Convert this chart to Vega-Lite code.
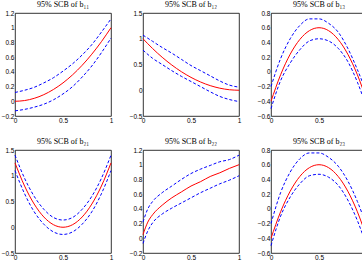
{
  "$schema": "https://vega.github.io/schema/vega-lite/v6.json",
  "padding": {"left": 0, "top": 0, "right": 0, "bottom": 0},
  "columns": 3,
  "spacing": {"row": 13, "column": 14},
  "datasets": {
    "b11": [
      {"x": 0, "m": 0, "lo": -0.13, "hi": 0.12},
      {"x": 0.1, "m": 0.01, "lo": -0.11, "hi": 0.15},
      {"x": 0.2, "m": 0.04, "lo": -0.08, "hi": 0.19},
      {"x": 0.3, "m": 0.09, "lo": -0.04, "hi": 0.25},
      {"x": 0.4, "m": 0.16, "lo": 0.02, "hi": 0.32},
      {"x": 0.5, "m": 0.25, "lo": 0.10, "hi": 0.41},
      {"x": 0.6, "m": 0.36, "lo": 0.20, "hi": 0.51},
      {"x": 0.7, "m": 0.49, "lo": 0.33, "hi": 0.63},
      {"x": 0.8, "m": 0.64, "lo": 0.48, "hi": 0.77},
      {"x": 0.9, "m": 0.81, "lo": 0.66, "hi": 0.94},
      {"x": 1, "m": 1.0, "lo": 0.86, "hi": 1.12}
    ],
    "b12": [
      {"x": 0, "m": 1.0, "lo": 0.78, "hi": 1.07},
      {"x": 0.1, "m": 0.81, "lo": 0.62, "hi": 0.95},
      {"x": 0.2, "m": 0.64, "lo": 0.50, "hi": 0.83},
      {"x": 0.3, "m": 0.49, "lo": 0.38, "hi": 0.72},
      {"x": 0.4, "m": 0.36, "lo": 0.27, "hi": 0.60},
      {"x": 0.5, "m": 0.25, "lo": 0.17, "hi": 0.48},
      {"x": 0.6, "m": 0.16, "lo": 0.07, "hi": 0.38},
      {"x": 0.7, "m": 0.09, "lo": -0.03, "hi": 0.28},
      {"x": 0.8, "m": 0.04, "lo": -0.12, "hi": 0.18},
      {"x": 0.9, "m": 0.01, "lo": -0.18, "hi": 0.10},
      {"x": 1, "m": 0.0, "lo": -0.22, "hi": 0.06}
    ],
    "b13": [
      {"x": 0, "m": -0.4, "lo": -0.5, "hi": -0.2},
      {"x": 0.1, "m": -0.04, "lo": -0.12, "hi": 0.18},
      {"x": 0.2, "m": 0.24, "lo": 0.12, "hi": 0.45},
      {"x": 0.3, "m": 0.44, "lo": 0.30, "hi": 0.63},
      {"x": 0.4, "m": 0.56, "lo": 0.42, "hi": 0.72},
      {"x": 0.5, "m": 0.6, "lo": 0.45, "hi": 0.72},
      {"x": 0.6, "m": 0.56, "lo": 0.42, "hi": 0.66},
      {"x": 0.7, "m": 0.44, "lo": 0.32, "hi": 0.54},
      {"x": 0.8, "m": 0.24, "lo": 0.14, "hi": 0.32},
      {"x": 0.9, "m": -0.04, "lo": -0.14, "hi": 0.03},
      {"x": 1, "m": -0.4, "lo": -0.5, "hi": -0.3}
    ],
    "b21": [
      {"x": 0, "m": 1.25, "lo": 1.1, "hi": 1.4},
      {"x": 0.1, "m": 0.8, "lo": 0.65, "hi": 0.95},
      {"x": 0.2, "m": 0.45, "lo": 0.3, "hi": 0.6},
      {"x": 0.3, "m": 0.2, "lo": 0.06, "hi": 0.35},
      {"x": 0.4, "m": 0.05, "lo": -0.09, "hi": 0.19},
      {"x": 0.5, "m": 0.0, "lo": -0.14, "hi": 0.14},
      {"x": 0.6, "m": 0.05, "lo": -0.09, "hi": 0.19},
      {"x": 0.7, "m": 0.2, "lo": 0.06, "hi": 0.35},
      {"x": 0.8, "m": 0.45, "lo": 0.3, "hi": 0.6},
      {"x": 0.9, "m": 0.8, "lo": 0.65, "hi": 0.95},
      {"x": 1, "m": 1.25, "lo": 1.1, "hi": 1.4}
    ],
    "b22": [
      {"x": 0, "m": 0.05, "lo": -0.07, "hi": 0.22},
      {"x": 0.05, "m": 0.22, "lo": 0.10, "hi": 0.40},
      {"x": 0.1, "m": 0.32, "lo": 0.21, "hi": 0.50},
      {"x": 0.2, "m": 0.45, "lo": 0.33, "hi": 0.62},
      {"x": 0.3, "m": 0.55, "lo": 0.41, "hi": 0.71},
      {"x": 0.4, "m": 0.63, "lo": 0.48, "hi": 0.80},
      {"x": 0.5, "m": 0.71, "lo": 0.55, "hi": 0.88},
      {"x": 0.6, "m": 0.77, "lo": 0.62, "hi": 0.94},
      {"x": 0.7, "m": 0.84, "lo": 0.68, "hi": 0.99},
      {"x": 0.8, "m": 0.89, "lo": 0.74, "hi": 1.04},
      {"x": 0.9, "m": 0.95, "lo": 0.79, "hi": 1.07},
      {"x": 1, "m": 1.0, "lo": 0.85, "hi": 1.13}
    ],
    "b23": [
      {"x": 0, "m": -0.4, "lo": -0.5, "hi": -0.2},
      {"x": 0.1, "m": -0.04, "lo": -0.1, "hi": 0.22},
      {"x": 0.2, "m": 0.24, "lo": 0.16, "hi": 0.5},
      {"x": 0.3, "m": 0.44, "lo": 0.34, "hi": 0.68},
      {"x": 0.4, "m": 0.56, "lo": 0.45, "hi": 0.76},
      {"x": 0.5, "m": 0.6, "lo": 0.47, "hi": 0.76},
      {"x": 0.6, "m": 0.56, "lo": 0.43, "hi": 0.70},
      {"x": 0.7, "m": 0.44, "lo": 0.32, "hi": 0.58},
      {"x": 0.8, "m": 0.24, "lo": 0.12, "hi": 0.38},
      {"x": 0.9, "m": -0.04, "lo": -0.16, "hi": 0.1},
      {"x": 1, "m": -0.4, "lo": -0.52, "hi": -0.25}
    ]
  },
  "config": {
    "view": {"stroke": "black", "strokeWidth": 0.8},
    "axis": {"grid": false, "domain": false, "ticks": false, "labelFont": "Liberation Sans", "labelFontSize": 6.5, "labelColor": "black", "labelPadding": 1, "labelFlush": false, "labelOverlap": false, "title": null, "format": "~g"},
    "title": {"font": "Liberation Serif", "fontSize": 8, "fontWeight": "normal", "color": "black", "offset": 1},
    "line": {"interpolate": "monotone", "strokeWidth": 1}
  },
  "concat": [
    {"title": "95% SCB of b₁₁", "width": 96, "height": 103, "data": {"name": "b11"},
     "encoding": {"x": {"field": "x", "type": "quantitative", "scale": {"domain": [0, 1], "nice": false}, "axis": {"values": [0, 0.5, 1]}}},
     "layer": [
       {"mark": {"type": "line", "color": "#0000ff", "strokeDash": [3, 2]}, "encoding": {"y": {"field": "lo", "type": "quantitative", "scale": {"domain": [-0.2, 1.2], "nice": false}, "axis": {"values": [-0.2, 0, 0.2, 0.4, 0.6, 0.8, 1, 1.2]}}}},
       {"mark": {"type": "line", "color": "#0000ff", "strokeDash": [3, 2]}, "encoding": {"y": {"field": "hi", "type": "quantitative", "scale": {"domain": [-0.2, 1.2], "nice": false}, "axis": {"values": [-0.2, 0, 0.2, 0.4, 0.6, 0.8, 1, 1.2]}}}},
       {"mark": {"type": "line", "color": "#ff0000"}, "encoding": {"y": {"field": "m", "type": "quantitative", "scale": {"domain": [-0.2, 1.2], "nice": false}, "axis": {"values": [-0.2, 0, 0.2, 0.4, 0.6, 0.8, 1, 1.2]}}}}
     ]},
    {"title": "95% SCB of b₁₂", "width": 96, "height": 103, "data": {"name": "b12"},
     "encoding": {"x": {"field": "x", "type": "quantitative", "scale": {"domain": [0, 1], "nice": false}, "axis": {"values": [0, 0.5, 1]}}},
     "layer": [
       {"mark": {"type": "line", "color": "#0000ff", "strokeDash": [3, 2]}, "encoding": {"y": {"field": "lo", "type": "quantitative", "scale": {"domain": [-0.5, 1.5], "nice": false}, "axis": {"values": [-0.5, 0, 0.5, 1, 1.5]}}}},
       {"mark": {"type": "line", "color": "#0000ff", "strokeDash": [3, 2]}, "encoding": {"y": {"field": "hi", "type": "quantitative", "scale": {"domain": [-0.5, 1.5], "nice": false}, "axis": {"values": [-0.5, 0, 0.5, 1, 1.5]}}}},
       {"mark": {"type": "line", "color": "#ff0000"}, "encoding": {"y": {"field": "m", "type": "quantitative", "scale": {"domain": [-0.5, 1.5], "nice": false}, "axis": {"values": [-0.5, 0, 0.5, 1, 1.5]}}}}
     ]},
    {"title": "95% SCB of b₁₃", "width": 96, "height": 103, "data": {"name": "b13"},
     "encoding": {"x": {"field": "x", "type": "quantitative", "scale": {"domain": [0, 1], "nice": false}, "axis": {"values": [0, 0.5, 1]}}},
     "layer": [
       {"mark": {"type": "line", "color": "#0000ff", "strokeDash": [3, 2]}, "encoding": {"y": {"field": "lo", "type": "quantitative", "scale": {"domain": [-0.6, 0.8], "nice": false}, "axis": {"values": [-0.6, -0.4, -0.2, 0, 0.2, 0.4, 0.6, 0.8]}}}},
       {"mark": {"type": "line", "color": "#0000ff", "strokeDash": [3, 2]}, "encoding": {"y": {"field": "hi", "type": "quantitative", "scale": {"domain": [-0.6, 0.8], "nice": false}, "axis": {"values": [-0.6, -0.4, -0.2, 0, 0.2, 0.4, 0.6, 0.8]}}}},
       {"mark": {"type": "line", "color": "#ff0000"}, "encoding": {"y": {"field": "m", "type": "quantitative", "scale": {"domain": [-0.6, 0.8], "nice": false}, "axis": {"values": [-0.6, -0.4, -0.2, 0, 0.2, 0.4, 0.6, 0.8]}}}}
     ]},
    {"title": "95% SCB of b₂₁", "width": 96, "height": 103, "data": {"name": "b21"},
     "encoding": {"x": {"field": "x", "type": "quantitative", "scale": {"domain": [0, 1], "nice": false}, "axis": {"values": [0, 0.5, 1]}}},
     "layer": [
       {"mark": {"type": "line", "color": "#0000ff", "strokeDash": [3, 2]}, "encoding": {"y": {"field": "lo", "type": "quantitative", "scale": {"domain": [-0.5, 1.5], "nice": false}, "axis": {"values": [-0.5, 0, 0.5, 1, 1.5]}}}},
       {"mark": {"type": "line", "color": "#0000ff", "strokeDash": [3, 2]}, "encoding": {"y": {"field": "hi", "type": "quantitative", "scale": {"domain": [-0.5, 1.5], "nice": false}, "axis": {"values": [-0.5, 0, 0.5, 1, 1.5]}}}},
       {"mark": {"type": "line", "color": "#ff0000"}, "encoding": {"y": {"field": "m", "type": "quantitative", "scale": {"domain": [-0.5, 1.5], "nice": false}, "axis": {"values": [-0.5, 0, 0.5, 1, 1.5]}}}}
     ]},
    {"title": "95% SCB of b₂₂", "width": 96, "height": 103, "data": {"name": "b22"},
     "encoding": {"x": {"field": "x", "type": "quantitative", "scale": {"domain": [0, 1], "nice": false}, "axis": {"values": [0, 0.5, 1]}}},
     "layer": [
       {"mark": {"type": "line", "color": "#0000ff", "strokeDash": [3, 2]}, "encoding": {"y": {"field": "lo", "type": "quantitative", "scale": {"domain": [-0.2, 1.2], "nice": false}, "axis": {"values": [-0.2, 0, 0.2, 0.4, 0.6, 0.8, 1, 1.2]}}}},
       {"mark": {"type": "line", "color": "#0000ff", "strokeDash": [3, 2]}, "encoding": {"y": {"field": "hi", "type": "quantitative", "scale": {"domain": [-0.2, 1.2], "nice": false}, "axis": {"values": [-0.2, 0, 0.2, 0.4, 0.6, 0.8, 1, 1.2]}}}},
       {"mark": {"type": "line", "color": "#ff0000"}, "encoding": {"y": {"field": "m", "type": "quantitative", "scale": {"domain": [-0.2, 1.2], "nice": false}, "axis": {"values": [-0.2, 0, 0.2, 0.4, 0.6, 0.8, 1, 1.2]}}}}
     ]},
    {"title": "95% SCB of b₂₃", "width": 96, "height": 103, "data": {"name": "b23"},
     "encoding": {"x": {"field": "x", "type": "quantitative", "scale": {"domain": [0, 1], "nice": false}, "axis": {"values": [0, 0.5, 1]}}},
     "layer": [
       {"mark": {"type": "line", "color": "#0000ff", "strokeDash": [3, 2]}, "encoding": {"y": {"field": "lo", "type": "quantitative", "scale": {"domain": [-0.6, 0.8], "nice": false}, "axis": {"values": [-0.6, -0.4, -0.2, 0, 0.2, 0.4, 0.6, 0.8]}}}},
       {"mark": {"type": "line", "color": "#0000ff", "strokeDash": [3, 2]}, "encoding": {"y": {"field": "hi", "type": "quantitative", "scale": {"domain": [-0.6, 0.8], "nice": false}, "axis": {"values": [-0.6, -0.4, -0.2, 0, 0.2, 0.4, 0.6, 0.8]}}}},
       {"mark": {"type": "line", "color": "#ff0000"}, "encoding": {"y": {"field": "m", "type": "quantitative", "scale": {"domain": [-0.6, 0.8], "nice": false}, "axis": {"values": [-0.6, -0.4, -0.2, 0, 0.2, 0.4, 0.6, 0.8]}}}}
     ]}
  ]
}
